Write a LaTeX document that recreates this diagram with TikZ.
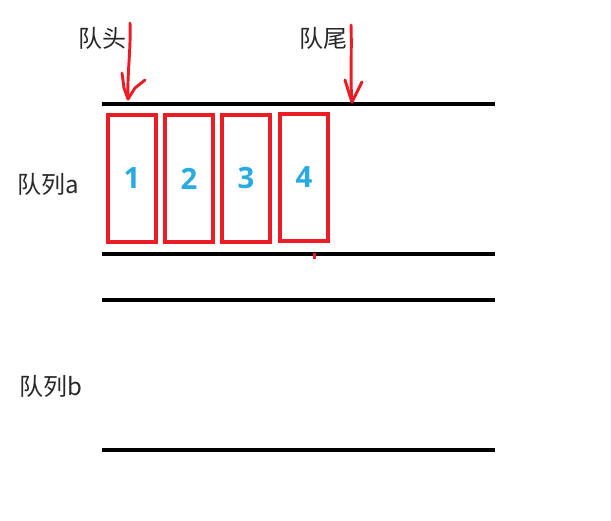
\documentclass[tikz,border=0pt]{standalone}
\usepackage{fontspec}
\newfontfamily\cjk{Noto Sans CJK SC}
\newfontfamily\numfont{Open Sans}
\definecolor{qred}{RGB}{236,28,36}
\definecolor{qblue}{RGB}{41,171,226}
\definecolor{qtext}{RGB}{40,40,40}
\begin{document}
\begin{tikzpicture}[x=0.75pt,y=-0.75pt,
  rail/.style={line width=3pt,black},
  slot/.style={draw=qred,line width=3.4pt,minimum width=48*0.75pt,minimum height=127*0.75pt,inner sep=0pt,
    font=\numfont\bfseries\fontsize{22}{24}\selectfont,text=qblue},
  lbl/.style={font=\cjk\fontsize{18}{20}\selectfont,text=qtext,inner sep=0pt},
  hand/.style={qred,line width=2.2pt,line cap=round,line join=round}]
\useasboundingbox (0,0) rectangle (611,521);
% rails
\coordinate (a1l) at (102,104); \coordinate (a1r) at (495,104);
\coordinate (a2l) at (102,254); \coordinate (a2r) at (495,254);
\coordinate (b1l) at (102,300); \coordinate (b1r) at (495,300);
\coordinate (b2l) at (102,450); \coordinate (b2r) at (495,450);
\draw[rail] (a1l) -- (a1r);
\draw[rail] (a2l) -- (a2r);
\draw[rail] (b1l) -- (b1r);
\draw[rail] (b2l) -- (b2r);
% slots
\node[slot] (s1) at (132,178.5) {1};
\node[slot] (s2) at (189,178.5) {2};
\node[slot] (s3) at (246,178.5) {3};
\node[slot] (s4) at (304,177.5) {4};
% labels
\node[lbl] (head) at (102,38) {队头};
\node[lbl] (tail) at (323,38) {队尾};
\node[lbl] (qa) at (48,184) {队列a};
\node[lbl] (qb) at (51,386) {队列b};
% hand arrows
\coordinate (h0) at (130,23); \coordinate (ht) at (128,99);
\draw[hand] (h0) .. controls (131,50) and (127,75) .. (ht);
\draw[hand] (122,73) -- (124,88) -- (ht) -- (135,88) -- (140,84) -- (145,80);
\coordinate (t0) at (351,25); \coordinate (tt) at (352,102);
\draw[hand] (t0) .. controls (352,50) and (350,80) .. (tt);
\draw[hand] (345,80) -- (350,96) -- (tt) -- (357,92) -- (362,82);
% small red tick
\fill[qred] (312.5,253) rectangle (315.5,259);
\end{tikzpicture}
\end{document}
